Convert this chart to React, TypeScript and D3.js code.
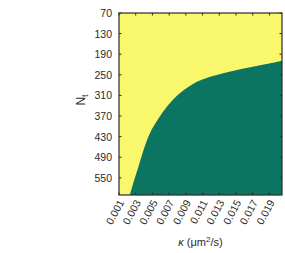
import React from "react";
import * as d3 from "d3";

// Boundary between regions: kappa vs N_t threshold
const boundaryKappa = [0.0023, 0.0027, 0.0033, 0.0039, 0.0047, 0.0057, 0.0067, 0.0079, 0.0099, 0.0119, 0.0137, 0.0155, 0.0173, 0.019, 0.0205];
const boundaryN = [600, 566, 520, 472, 420, 378, 344, 312, 276, 256, 244, 234, 225, 217, 209];

const xTicks = [0.001, 0.003, 0.005, 0.007, 0.009, 0.011, 0.013, 0.015, 0.017, 0.019];
const yTicks = [70, 130, 190, 250, 310, 370, 430, 490, 550];

const kappaDomain = [0.001, 0.0205];
const nDomain = [70, 600];

const W = 285, H = 253;
const L = 119, R = 282, T = 13, B = 195;
const YELLOW = "#f9f76b";
const GREEN = "#0b7561";
const AXIS = "#2b2b2b";
const FONT = "Liberation Sans, Arial, sans-serif";

export default function App() {
  const x = d3.scaleLinear().domain(kappaDomain).range([L, R]);
  const y = d3.scaleLinear().domain(nDomain).range([T, B]);
  const pts = boundaryKappa.map((k, i) => [k, boundaryN[i]] as [number, number]);
  const area = d3
    .area<[number, number]>()
    .x((d) => x(d[0]))
    .y0(() => y(nDomain[1]))
    .y1((d) => y(d[1]))
    .curve(d3.curveCatmullRom.alpha(0.5));
  const tl = 2.5;
  return (
    <svg width={W} height={H} style={{ position: "absolute", left: 0, top: 0 }} fontFamily={FONT}>
      <rect x={L} y={T} width={R - L} height={B - T} fill={YELLOW} />
      <path d={area(pts) || ""} fill={GREEN} />
      {xTicks.map((t) => (
        <g key={"x" + t}>
          <line x1={x(t)} x2={x(t)} y1={B} y2={B - tl} stroke={AXIS} strokeWidth={1} />
          <line x1={x(t)} x2={x(t)} y1={T} y2={T + tl} stroke={AXIS} strokeWidth={1} />
          <text
            transform={`translate(${x(t) + 3},${B + 6}) rotate(-62)`}
            textAnchor="end"
            dominantBaseline="middle"
            fontSize={10.5}
            fill={AXIS}
          >
            {t.toFixed(3)}
          </text>
        </g>
      ))}
      {yTicks.map((t) => (
        <g key={"y" + t}>
          <line x1={L} x2={L + tl} y1={y(t)} y2={y(t)} stroke={AXIS} strokeWidth={1} />
          <line x1={R} x2={R - tl} y1={y(t)} y2={y(t)} stroke={AXIS} strokeWidth={1} />
          <text x={L - 7} y={y(t)} textAnchor="end" dominantBaseline="central" fontSize={10.5} fill={AXIS}>
            {t}
          </text>
        </g>
      ))}
      <rect x={L} y={T} width={R - L} height={B - T} fill="none" stroke={AXIS} strokeWidth={1.2} />
      <text transform={`translate(85,100) rotate(-90)`} textAnchor="middle" fontSize={12} fill={AXIS}>
        N<tspan fontSize={9} dy={3}>t</tspan>
      </text>
      <text x={(L + R) / 2} y={246} textAnchor="middle" fontSize={11} fill={AXIS}>
        <tspan fontStyle="italic">κ</tspan> (μm<tspan fontSize={8} dy={-4}>2</tspan>
        <tspan dy={4}>/s)</tspan>
      </text>
    </svg>
  );
}
